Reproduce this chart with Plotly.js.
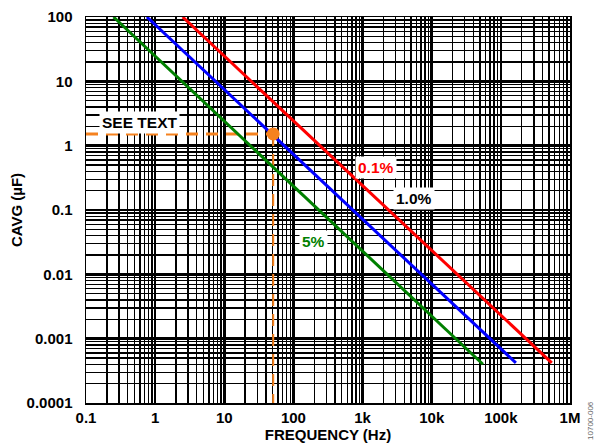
<!DOCTYPE html>
<html>
<head>
<meta charset="utf-8">
<script src="https://cdn.plot.ly/plotly-3.0.1.min.js"></script>
<style>html,body{margin:0;padding:0;background:#fff;}#chart{width:595px;height:444px;}</style>
</head>
<body>
<div id="chart"></div>
<script>
// Curve endpoints (C ≈ k / f, straight lines on log-log)
const freq01 = [2.5, 545000];
const cap01 = [100, 0.00042];
const freq10 = [0.76, 165000];
const cap10 = [100, 0.00042];
const freq5 = [0.25, 55000];
const cap5 = [100, 0.0004];

// "SEE TEXT" operating point
const pointFreq = [51];
const pointCap = [1.52];
const hLineFreq = [0.1, 51];
const hLineCap = [1.52, 1.52];
const vLineFreq = [51, 51];
const vLineCap = [1.52, 0.0001];

// Axis ticks
const xTickVals = [0.1, 1, 10, 100, 1000, 10000, 100000, 1000000];
const xTickText = ['0.1', '1', '10', '100', '1k', '10k', '100k', '1M'];
const yTickVals = [0.0001, 0.001, 0.01, 0.1, 1, 10, 100];
const yTickText = ['0.0001', '0.001', '0.01', '0.1', '1', '10', '100'];

// Label texts and anchor points (frequency Hz, capacitance µF)
const labelTexts = ['SEE TEXT', '0.1%', '1.0%', '5%'];
const labelFreq = [0.6, 1560, 5500, 192];
const labelCap = [2.29, 0.452, 0.149, 0.0326];
const labelColors = ['#000', '#ff0000', '#000', '#008000'];

const FONT = 'Liberation Sans, Arial, sans-serif';
const orange = '#f5821f';

const traces = [
  {x: hLineFreq, y: hLineCap, mode: 'lines', line: {color: orange, width: 3, dash: '12px,8px'}, hoverinfo: 'skip'},
  {x: vLineFreq, y: vLineCap, mode: 'lines', line: {color: orange, width: 2, dash: '12px,8px'}, hoverinfo: 'skip'},
  {x: freq5, y: cap5, mode: 'lines', line: {color: '#008000', width: 3}, name: '5%'},
  {x: freq10, y: cap10, mode: 'lines', line: {color: '#0000ff', width: 3}, name: '1.0%'},
  {x: freq01, y: cap01, mode: 'lines', line: {color: '#ff0000', width: 3}, name: '0.1%'},
  {x: pointFreq, y: pointCap, mode: 'markers', marker: {color: orange, size: 13}, hoverinfo: 'skip'}
];

const axisCommon = {
  type: 'log',
  showgrid: true,
  gridcolor: '#000',
  gridwidth: 2.5,
  showline: true,
  linecolor: '#000',
  linewidth: 1.5,
  mirror: true,
  zeroline: false,
  tickmode: 'array',
  tickfont: {family: FONT, size: 15, color: '#000', weight: 'bold'},
  minor: {dtick: 'D1', showgrid: true, gridcolor: '#000', gridwidth: 1.4, ticks: ''}
};

const annotations = labelTexts.map((t, i) => ({
  x: Math.log10(labelFreq[i]), y: Math.log10(labelCap[i]), xref: 'x', yref: 'y',
  text: '<b>' + t + '</b>', showarrow: false,
  font: {family: FONT, size: 15.5, color: labelColors[i]}, bgcolor: '#fff', borderpad: 2
}));
annotations.push({x: 1.041, y: -0.1, xref: 'paper', yref: 'paper', text: '10700-006', showarrow: false,
  textangle: -90, xanchor: 'center', yanchor: 'bottom', font: {family: FONT, size: 8, color: '#666'}});

const layout = {
  width: 595,
  height: 444,
  margin: {l: 86, r: 25, t: 17, b: 41},
  paper_bgcolor: '#fff',
  plot_bgcolor: '#fff',
  showlegend: false,
  xaxis: Object.assign({}, axisCommon, {
    range: [-1, 6],
    tickvals: xTickVals,
    ticktext: xTickText,
    ticks: '',
    title: {text: 'FREQUENCY (Hz)', font: {family: FONT, size: 15, color: '#000', weight: 'bold'}, standoff: 2}
  }),
  yaxis: Object.assign({}, axisCommon, {
    range: [-4, 2],
    tickvals: yTickVals,
    ticktext: yTickText,
    ticks: 'outside',
    ticklen: 9,
    tickcolor: 'rgba(0,0,0,0)',
    title: {text: 'CAVG (µF)', font: {family: FONT, size: 15, color: '#000', weight: 'bold'}, standoff: 0}
  }),
  annotations: annotations
};

Plotly.newPlot('chart', traces, layout, {staticPlot: true, displayModeBar: false});
</script>
</body>
</html>
